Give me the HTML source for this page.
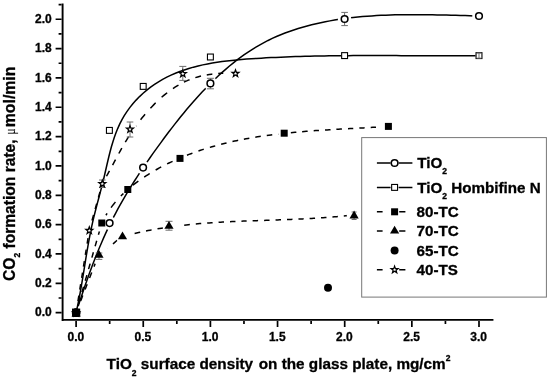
<!DOCTYPE html>
<html><head><meta charset="utf-8"><title>chart</title>
<style>html,body{margin:0;padding:0;background:#fff;overflow:hidden}svg{display:block}</style></head>
<body>
<svg width="550" height="378" viewBox="0 0 550 378">
<rect width="550" height="378" fill="#fff"/>
<defs>
<mask id="m_tio2" maskUnits="userSpaceOnUse" x="0" y="0" width="550" height="378"><rect width="550" height="378" fill="#fff"/>
<circle cx="76.10" cy="312.65" r="6.8" fill="#000"/>
<circle cx="109.60" cy="223.10" r="6.8" fill="#000"/>
<circle cx="143.10" cy="167.60" r="6.8" fill="#000"/>
<circle cx="210.40" cy="83.40" r="6.8" fill="#000"/>
<circle cx="344.60" cy="19.00" r="6.8" fill="#000"/>
<circle cx="479.00" cy="16.00" r="6.8" fill="#000"/>
</mask>
<mask id="m_tc80" maskUnits="userSpaceOnUse" x="0" y="0" width="550" height="378"><rect width="550" height="378" fill="#fff"/>
<circle cx="76.10" cy="312.65" r="6.0" fill="#000"/>
<circle cx="101.80" cy="223.00" r="6.0" fill="#000"/>
<circle cx="127.80" cy="189.50" r="6.0" fill="#000"/>
<circle cx="180.00" cy="158.40" r="6.0" fill="#000"/>
<circle cx="284.20" cy="133.20" r="6.0" fill="#000"/>
<circle cx="388.40" cy="126.40" r="6.0" fill="#000"/>
<circle cx="101.80" cy="223.00" r="9.0" fill="#000"/>
<circle cx="388.40" cy="126.40" r="7.5" fill="#000"/>
</mask>
<mask id="m_tc70" maskUnits="userSpaceOnUse" x="0" y="0" width="550" height="378"><rect width="550" height="378" fill="#fff"/>
<circle cx="76.10" cy="312.65" r="7.5" fill="#000"/>
<circle cx="122.50" cy="235.40" r="7.5" fill="#000"/>
<circle cx="354.10" cy="214.50" r="7.5" fill="#000"/>
<circle cx="99.00" cy="253.80" r="10.5" fill="#000"/>
<circle cx="169.00" cy="224.80" r="4.8" fill="#000"/>
<circle cx="177.00" cy="225.40" r="6.5" fill="#000"/>
</mask>
<mask id="m_ts40" maskUnits="userSpaceOnUse" x="0" y="0" width="550" height="378"><rect width="550" height="378" fill="#fff"/>
<circle cx="76.10" cy="312.65" r="7.0" fill="#000"/>
<circle cx="89.30" cy="230.20" r="7.0" fill="#000"/>
<circle cx="102.30" cy="183.50" r="7.0" fill="#000"/>
<circle cx="130.00" cy="129.00" r="7.0" fill="#000"/>
<circle cx="182.80" cy="73.40" r="7.0" fill="#000"/>
<circle cx="235.50" cy="73.20" r="7.0" fill="#000"/>
<circle cx="235.50" cy="73.20" r="12.0" fill="#000"/>
</mask>
<mask id="m_homb" maskUnits="userSpaceOnUse" x="0" y="0" width="550" height="378"><rect width="550" height="378" fill="#fff"/>
<circle cx="210.40" cy="57.00" r="3.5" fill="#000"/>
<circle cx="344.60" cy="55.60" r="3.5" fill="#000"/>
<circle cx="479.00" cy="55.60" r="3.5" fill="#000"/>
</mask>
</defs>
<g fill="none" stroke="#000" stroke-width="1.50">
<path mask="url(#m_homb)" d="M76.10,312.65 L77.15,307.95 L78.15,303.23 L79.09,298.50 L79.99,293.74 L80.85,288.98 L81.67,284.20 L82.47,279.42 L83.26,274.63 L84.03,269.83 L84.80,265.04 L85.57,260.24 L86.35,255.44 L87.15,250.65 L87.97,245.87 L88.82,241.10 L89.71,236.33 L90.64,231.58 L91.62,226.85 L92.66,222.14 L93.77,217.44 L94.92,212.76 L96.12,208.09 L97.34,203.42 L98.58,198.75 L99.81,194.08 L101.04,189.40 L102.24,184.71 L103.41,179.99 L104.53,175.25 L105.62,170.49 L106.71,165.73 L107.81,160.98 L108.95,156.23 L110.14,151.51 L111.41,146.82 L112.78,142.17 L114.27,137.57 L115.90,133.04 L117.69,128.57 L119.67,124.18 L121.85,119.88 L124.26,115.68 L126.90,111.59 L129.77,107.62 L132.85,103.79 L136.11,100.11 L139.53,96.58 L143.11,93.23 L146.81,90.07 L150.62,87.11 L154.53,84.34 L158.53,81.77 L162.63,79.38 L166.81,77.17 L171.07,75.12 L175.41,73.24 L179.82,71.50 L184.30,69.92 L188.84,68.47 L193.44,67.15 L198.09,65.95 L202.79,64.87 L207.53,63.90 L212.31,63.03 L217.13,62.25 L221.98,61.55 L226.85,60.93 L231.74,60.39 L236.64,59.90 L241.56,59.47 L246.48,59.08 L251.41,58.74 L256.33,58.42 L261.24,58.13 L266.15,57.86 L271.04,57.61 L275.92,57.38 L280.80,57.16 L285.66,56.97 L290.52,56.78 L295.37,56.62 L300.22,56.47 L305.05,56.33 L309.88,56.21 L314.71,56.10 L319.53,56.00 L324.35,55.92 L329.16,55.84 L333.97,55.78 L338.77,55.73 L343.58,55.68 L348.38,55.65 L353.18,55.62 L357.97,55.60 L362.77,55.58 L367.57,55.58 L372.37,55.57 L377.17,55.58 L381.97,55.58 L386.77,55.59 L391.57,55.61 L396.38,55.62 L401.19,55.64 L406.00,55.66 L410.82,55.68 L415.64,55.69 L420.47,55.71 L425.31,55.73 L430.15,55.74 L434.99,55.75 L439.85,55.76 L444.71,55.76 L449.58,55.75 L454.46,55.75 L459.35,55.73 L464.24,55.71 L469.15,55.68 L474.07,55.65 L479.00,55.60"/>
<path mask="url(#m_tio2)" d="M76.10,312.65 L77.53,308.21 L78.97,303.78 L80.43,299.34 L81.91,294.91 L83.40,290.48 L84.92,286.05 L86.46,281.63 L88.02,277.23 L89.61,272.83 L91.23,268.44 L92.88,264.06 L94.56,259.70 L96.27,255.36 L98.02,251.03 L99.81,246.72 L101.64,242.43 L103.51,238.16 L105.42,233.91 L107.38,229.69 L109.39,225.49 L111.44,221.32 L113.55,217.18 L115.70,213.06 L117.89,208.97 L120.14,204.91 L122.42,200.86 L124.75,196.84 L127.11,192.85 L129.52,188.87 L131.96,184.92 L134.44,180.98 L136.96,177.07 L139.50,173.17 L142.08,169.29 L144.69,165.43 L147.32,161.59 L149.99,157.76 L152.68,153.94 L155.39,150.14 L158.12,146.35 L160.88,142.57 L163.66,138.81 L166.46,135.06 L169.28,131.32 L172.12,127.60 L175.00,123.90 L177.90,120.23 L180.83,116.57 L183.79,112.95 L186.79,109.35 L189.82,105.78 L192.89,102.24 L196.00,98.73 L199.14,95.26 L202.33,91.83 L205.56,88.44 L208.83,85.09 L212.16,81.78 L215.53,78.52 L218.94,75.31 L222.41,72.16 L225.93,69.07 L229.49,66.04 L233.11,63.09 L236.78,60.21 L240.50,57.41 L244.28,54.70 L248.11,52.07 L251.99,49.54 L255.93,47.11 L259.93,44.78 L263.98,42.56 L268.09,40.45 L272.25,38.44 L276.46,36.54 L280.72,34.75 L285.02,33.05 L289.37,31.44 L293.75,29.93 L298.17,28.51 L302.63,27.18 L307.12,25.94 L311.64,24.77 L316.18,23.69 L320.74,22.68 L325.33,21.75 L329.94,20.88 L334.56,20.09 L339.19,19.36 L343.83,18.70 L348.48,18.10 L353.14,17.55 L357.79,17.06 L362.45,16.62 L367.11,16.24 L371.78,15.90 L376.44,15.61 L381.11,15.36 L385.77,15.15 L390.44,14.98 L395.11,14.85 L399.78,14.75 L404.45,14.68 L409.12,14.65 L413.79,14.64 L418.46,14.65 L423.12,14.69 L427.79,14.74 L432.46,14.82 L437.12,14.90 L441.78,15.01 L446.45,15.12 L451.10,15.24 L455.76,15.36 L460.42,15.49 L465.07,15.62 L469.71,15.75 L474.36,15.88 L479.00,16.00"/>
<path mask="url(#m_tc80)" d="M76.10,312.65L76.65,310.73L76.93,309.77M78.65,303.76L79.20,301.83L79.75,299.91L80.23,298.23M81.96,292.22L82.51,290.30L83.06,288.37L83.54,286.69M85.26,280.68L85.82,278.76L86.37,276.84L86.85,275.16M88.57,269.15L89.12,267.22L89.67,265.30L90.16,263.62M91.88,257.61L92.43,255.69L92.98,253.76L93.39,252.32M95.12,246.31L95.67,244.39L96.22,242.47L96.70,240.79M98.42,234.78L98.98,232.85L99.53,230.93L100.01,229.25M101.73,223.24L101.80,223.00"/>
<path mask="url(#m_tc80)" d="M103.86,218.94L104.89,217.08L105.96,215.25L107.07,213.45L107.07,213.45M111.06,207.58L112.32,205.91L113.61,204.27L114.93,202.65L115.44,202.05M120.88,196.07L122.35,194.59L123.85,193.14L125.38,191.71L126.34,190.83M132.93,185.25L134.58,183.95L136.25,182.68L137.94,181.43L138.37,181.12M144.21,177.07L145.97,175.91L147.75,174.77L149.54,173.66L149.76,173.52M155.66,170.02L157.50,168.98L159.35,167.96L161.21,166.96L161.21,166.96M167.09,163.94L168.99,163.01L170.90,162.10L172.58,161.31M178.63,158.61L179.36,158.29M180.34,157.88L181.07,157.57M186.98,155.19L188.96,154.42L190.95,153.68L192.44,153.12M198.46,151.00L200.47,150.33L202.50,149.66L203.76,149.26M209.86,147.38L211.90,146.79L213.95,146.20L215.23,145.85M221.13,144.27L223.19,143.74L225.25,143.23L226.54,142.92M232.48,141.55L234.55,141.09L236.62,140.65L238.17,140.33M243.87,139.19L245.95,138.80L248.03,138.42L249.32,138.19M255.30,137.17L257.39,136.84L259.47,136.52L260.77,136.32M266.77,135.45L268.86,135.17L270.95,134.89L272.25,134.72M278.27,133.99L280.36,133.75L282.45,133.52L283.76,133.37M284.02,133.35L284.81,133.26M290.84,132.65L292.94,132.45L295.04,132.26L296.35,132.14M302.13,131.65L304.23,131.48L306.33,131.31L307.65,131.21M313.70,130.77L315.80,130.62L317.91,130.48L318.96,130.41M325.02,130.02L327.13,129.89L329.24,129.77L330.56,129.69M336.36,129.36L338.47,129.24L340.59,129.12L341.91,129.05M347.98,128.72L350.09,128.61L352.20,128.50L353.26,128.44M359.34,128.12L361.45,128.01L363.56,127.89L364.62,127.83M370.70,127.49L372.81,127.37L374.92,127.25L375.98,127.19M382.06,126.81L384.17,126.68L386.29,126.54L387.61,126.45"/>
<path mask="url(#m_tc70)" d="M76.10,312.65L76.83,310.78L77.55,308.91L78.28,307.05L78.28,307.05M80.64,300.97L81.37,299.11L82.10,297.24L82.73,295.60M85.10,289.53L85.82,287.66L86.55,285.79L87.19,284.16M89.55,278.09L90.28,276.22L91.00,274.35L91.73,272.48L91.73,272.48M94.00,266.64L94.73,264.78L95.46,262.91L96.18,261.04L96.18,261.04M98.55,254.97L99.00,253.80M101.68,251.93L103.32,250.77L104.97,249.62L106.62,248.47L107.03,248.18M113.00,244.00L114.49,242.65L115.98,241.30L117.47,239.95L118.59,238.94"/>
<path mask="url(#m_tc70)" d="M123.26,236.39L125.27,235.84L127.29,235.31L128.80,234.91M134.62,233.48L136.64,233.00L138.67,232.54L140.19,232.20M146.03,230.97L148.07,230.57L150.11,230.17L151.64,229.88M157.50,228.84L159.55,228.49L161.59,228.16L162.87,227.96M169.02,227.04L169.02,227.04M172.87,226.51L174.93,226.24L176.98,225.98L178.27,225.82M184.19,225.13L186.25,224.91L188.31,224.70L189.86,224.54M195.80,223.98L197.86,223.79L199.93,223.62L201.22,223.51M207.18,223.05L209.25,222.91L211.32,222.76L212.62,222.68M218.58,222.31L220.66,222.19L222.73,222.07L224.03,222.00M230.00,221.70L232.08,221.60L234.16,221.51L235.46,221.45M241.44,221.20L243.53,221.11L245.61,221.03L246.65,220.99M252.63,220.78L254.72,220.70L256.80,220.63L258.10,220.59M264.09,220.39L266.17,220.32L268.26,220.25L269.56,220.20M275.55,220.00L277.63,219.93L279.71,219.86L281.02,219.81M287.00,219.59L289.08,219.51L291.16,219.42L292.47,219.37M298.45,219.11L300.53,219.02L302.61,218.92L303.65,218.87M309.62,218.56L311.70,218.44L313.77,218.32L315.07,218.24M321.04,217.86L323.11,217.72L325.18,217.57L326.48,217.48M332.43,217.01L334.50,216.83L336.56,216.65L337.86,216.53M343.79,215.95L345.86,215.74L347.92,215.52L349.47,215.34"/>
<path mask="url(#m_ts40)" d="M76.10,312.65L76.42,310.67L76.73,308.69L77.01,306.96M77.96,301.01L78.28,299.03L78.60,297.05L78.84,295.57M79.79,289.62L80.10,287.64L80.42,285.66L80.66,284.18M81.65,277.99L81.97,276.01L82.28,274.02L82.52,272.54M83.47,266.60L83.79,264.62L84.11,262.64L84.35,261.15M85.34,254.96L85.65,252.98L85.97,251.00L86.21,249.51M87.16,243.57L87.48,241.59L87.79,239.61L88.03,238.12M89.02,231.93L89.37,229.96L89.91,228.02L90.31,226.57M91.99,220.52L92.53,218.59L93.07,216.65L93.54,214.96M95.16,209.15L95.70,207.21L96.24,205.28L96.71,203.58M98.39,197.53L98.93,195.60L99.47,193.66L99.94,191.97M101.63,185.92L102.17,183.98L102.30,183.50"/>
<path mask="url(#m_ts40)" d="M102.30,183.50L103.09,182.17M106.48,176.25L107.69,174.07L108.89,171.89L109.49,170.80M112.60,165.04L113.78,162.84L114.96,160.64L115.55,159.54M118.82,153.51L120.02,151.33L121.24,149.16L121.85,148.08M125.28,142.18L126.57,140.06L127.87,137.95L128.69,136.65M132.42,130.97L133.81,128.94L135.23,126.93L136.13,125.68M140.58,119.77L142.12,117.83L143.68,115.92L145.07,114.26M150.43,108.22L152.14,106.40L153.88,104.61L155.65,102.84L155.65,102.84M161.62,97.30L163.52,95.67L165.45,94.08L167.17,92.73M172.96,88.53L175.04,87.16L177.14,85.86L178.47,85.07M183.91,82.17L186.14,81.12L188.40,80.14L189.54,79.68M195.34,77.64L197.71,76.95L200.10,76.32L201.00,76.10M206.77,74.91L209.23,74.51L211.70,74.16L212.32,74.08M218.22,73.49L220.72,73.33L223.22,73.20L223.53,73.19M229.78,73.08L232.27,73.10L234.76,73.16L235.07,73.17"/>
</g>
<path d="M210.40,78.30V88.80 M206.90,78.30h7.00 M206.90,88.80h7.00" stroke="#6e6e6e" stroke-width="1" fill="none"/>
<path d="M344.60,12.40V25.60 M341.30,12.40h6.60 M341.30,25.60h6.60" stroke="#6e6e6e" stroke-width="1" fill="none"/>
<path d="M102.30,180.00V187.50 M99.00,180.00h6.60 M99.00,187.50h6.60" stroke="#6e6e6e" stroke-width="1" fill="none"/>
<path d="M130.00,122.00V137.00 M126.70,122.00h6.60 M126.70,137.00h6.60" stroke="#6e6e6e" stroke-width="1" fill="none"/>
<path d="M182.80,66.40V80.40 M179.30,66.40h7.00 M179.30,80.40h7.00" stroke="#6e6e6e" stroke-width="1" fill="none"/>
<path d="M99.00,253.00V259.40 M95.70,253.00h6.60 M95.70,259.40h6.60" stroke="#6e6e6e" stroke-width="1" fill="none"/>
<path d="M169.00,221.30V230.20 M165.50,221.30h7.00 M165.50,230.20h7.00" stroke="#6e6e6e" stroke-width="1" fill="none"/>
<path d="M354.10,212.00V219.50 M351.60,212.00h5.00 M351.60,219.50h5.00" stroke="#6e6e6e" stroke-width="1" fill="none"/>
<rect x="72.60" y="309.15" width="7.00" height="7.00" fill="#000"/>
<rect x="98.30" y="219.50" width="7.00" height="7.00" fill="#000"/>
<rect x="124.30" y="186.00" width="7.00" height="7.00" fill="#000"/>
<rect x="176.50" y="154.90" width="7.00" height="7.00" fill="#000"/>
<rect x="280.70" y="129.70" width="7.00" height="7.00" fill="#000"/>
<rect x="384.90" y="122.90" width="7.00" height="7.00" fill="#000"/>
<path d="M76.10,308.75L80.70,316.55L71.50,316.55Z" fill="#000"/>
<path d="M99.00,249.90L103.60,257.70L94.40,257.70Z" fill="#000"/>
<path d="M122.50,231.50L127.10,239.30L117.90,239.30Z" fill="#000"/>
<path d="M169.00,220.90L173.60,228.70L164.40,228.70Z" fill="#000"/>
<path d="M354.10,210.60L358.70,218.40L349.50,218.40Z" fill="#000"/>
<polygon points="76.10,309.25 76.98,311.74 79.62,311.81 77.53,313.41 78.27,315.94 76.10,314.45 73.93,315.94 74.67,313.41 72.58,311.81 75.22,311.74" fill="#fff" stroke="#000" stroke-width="1.2" stroke-linejoin="miter"/>
<polygon points="89.30,226.80 90.18,229.29 92.82,229.36 90.73,230.96 91.47,233.49 89.30,232.00 87.13,233.49 87.87,230.96 85.78,229.36 88.42,229.29" fill="#fff" stroke="#000" stroke-width="1.2" stroke-linejoin="miter"/>
<polygon points="102.30,180.10 103.18,182.59 105.82,182.66 103.73,184.26 104.47,186.79 102.30,185.30 100.13,186.79 100.87,184.26 98.78,182.66 101.42,182.59" fill="#fff" stroke="#000" stroke-width="1.2" stroke-linejoin="miter"/>
<polygon points="130.00,125.60 130.88,128.09 133.52,128.16 131.43,129.76 132.17,132.29 130.00,130.80 127.83,132.29 128.57,129.76 126.48,128.16 129.12,128.09" fill="#fff" stroke="#000" stroke-width="1.2" stroke-linejoin="miter"/>
<polygon points="182.80,70.00 183.68,72.49 186.32,72.56 184.23,74.16 184.97,76.69 182.80,75.20 180.63,76.69 181.37,74.16 179.28,72.56 181.92,72.49" fill="#fff" stroke="#000" stroke-width="1.2" stroke-linejoin="miter"/>
<polygon points="235.50,69.80 236.38,72.29 239.02,72.36 236.93,73.96 237.67,76.49 235.50,75.00 233.33,76.49 234.07,73.96 231.98,72.36 234.62,72.29" fill="#fff" stroke="#000" stroke-width="1.2" stroke-linejoin="miter"/>
<rect x="73.15" y="309.70" width="5.90" height="5.90" fill="#fff" stroke="#000" stroke-width="1.1"/>
<rect x="106.45" y="127.45" width="5.90" height="5.90" fill="#fff" stroke="#000" stroke-width="1.1"/>
<rect x="140.25" y="83.45" width="5.90" height="5.90" fill="#fff" stroke="#000" stroke-width="1.1"/>
<rect x="207.45" y="54.05" width="5.90" height="5.90" fill="#fff" stroke="#000" stroke-width="1.1"/>
<rect x="341.65" y="52.65" width="5.90" height="5.90" fill="#fff" stroke="#000" stroke-width="1.1"/>
<rect x="476.05" y="52.65" width="5.90" height="5.90" fill="#fff" stroke="#000" stroke-width="1.1"/>
<circle cx="76.10" cy="312.65" r="3.33" fill="#fff" stroke="#000" stroke-width="1.55"/>
<circle cx="109.60" cy="223.10" r="3.33" fill="#fff" stroke="#000" stroke-width="1.55"/>
<circle cx="143.10" cy="167.60" r="3.33" fill="#fff" stroke="#000" stroke-width="1.55"/>
<circle cx="210.40" cy="83.40" r="3.33" fill="#fff" stroke="#000" stroke-width="1.55"/>
<circle cx="344.60" cy="19.00" r="3.33" fill="#fff" stroke="#000" stroke-width="1.55"/>
<circle cx="479.00" cy="16.00" r="3.33" fill="#fff" stroke="#000" stroke-width="1.55"/>
<circle cx="328.00" cy="287.65" r="4.00" fill="#000"/>
<path d="M479.00,53.00V58.20 M476.50,53.00h5.00 M476.50,58.20h5.00" stroke="#6e6e6e" stroke-width="1" fill="none"/>
<circle cx="76.10" cy="312.65" r="4.30" fill="#000"/>
<rect x="72.00" y="308.55" width="8.20" height="8.20" fill="#000"/>
<g stroke="#000" stroke-width="1.9" fill="none">
<path d="M62.60,3.58V320.90 M61.60,319.90H493.43"/>
<path d="M61.60,312.65h-6.00M61.60,297.98h-3.00M61.60,283.31h-6.00M61.60,268.64h-3.00M61.60,253.97h-6.00M61.60,239.30h-3.00M61.60,224.63h-6.00M61.60,209.96h-3.00M61.60,195.29h-6.00M61.60,180.62h-3.00M61.60,165.95h-6.00M61.60,151.28h-3.00M61.60,136.61h-6.00M61.60,121.94h-3.00M61.60,107.27h-6.00M61.60,92.60h-3.00M61.60,77.93h-6.00M61.60,63.26h-3.00M61.60,48.59h-6.00M61.60,33.92h-3.00M61.60,19.25h-6.00M61.60,4.58h-3.00M76.10,320.90v6.00M109.67,320.90v3.00M143.25,320.90v6.00M176.82,320.90v3.00M210.40,320.90v6.00M243.97,320.90v3.00M277.55,320.90v6.00M311.12,320.90v3.00M344.70,320.90v6.00M378.27,320.90v3.00M411.85,320.90v6.00M445.43,320.90v3.00M479.00,320.90v6.00" stroke-width="1.7"/>
</g>
<g font-family="'Liberation Sans', sans-serif" font-weight="bold" stroke="#000" stroke-width="0.3" font-size="12px" fill="#000">
<text x="51.8" y="316.35" text-anchor="end">0.0</text>
<text x="51.8" y="287.01" text-anchor="end">0.2</text>
<text x="51.8" y="257.67" text-anchor="end">0.4</text>
<text x="51.8" y="228.33" text-anchor="end">0.6</text>
<text x="51.8" y="198.99" text-anchor="end">0.8</text>
<text x="51.8" y="169.65" text-anchor="end">1.0</text>
<text x="51.8" y="140.31" text-anchor="end">1.2</text>
<text x="51.8" y="110.97" text-anchor="end">1.4</text>
<text x="51.8" y="81.63" text-anchor="end">1.6</text>
<text x="51.8" y="52.29" text-anchor="end">1.8</text>
<text x="51.8" y="22.95" text-anchor="end">2.0</text>
<text x="75.80" y="340.8" text-anchor="middle">0.0</text>
<text x="142.95" y="340.8" text-anchor="middle">0.5</text>
<text x="210.10" y="340.8" text-anchor="middle">1.0</text>
<text x="277.25" y="340.8" text-anchor="middle">1.5</text>
<text x="344.40" y="340.8" text-anchor="middle">2.0</text>
<text x="411.55" y="340.8" text-anchor="middle">2.5</text>
<text x="478.70" y="340.8" text-anchor="middle">3.0</text>
</g>
<text font-family="'Liberation Sans', sans-serif" font-weight="bold" stroke="#000" stroke-width="0.3" font-size="15.3px" x="106.6" y="368.8">TiO<tspan font-size="8.5px" dy="6.8">2</tspan><tspan dy="-6.8"> surface density</tspan><tspan dx="1.4"> on the glass plate, mg/cm</tspan><tspan font-size="8.5px" dy="-8.3">2</tspan></text>
<text font-family="'Liberation Sans', sans-serif" font-weight="bold" stroke="#000" stroke-width="0.3" font-size="15.6px" transform="translate(14.8,281) rotate(-90)">CO<tspan font-size="8.5px" dy="5.2">2</tspan><tspan dy="-5.2"> formation rate,</tspan></text>
<text font-family="Liberation Serif, DejaVu Serif, serif" font-size="15.5px" stroke="#000" stroke-width="0.15" transform="translate(14.8,134.5) rotate(-90) scale(0.72,1)">μ</text>
<text font-family="'Liberation Sans', sans-serif" font-weight="bold" stroke="#000" stroke-width="0.3" font-size="15.8px" transform="translate(14.8,127.2) rotate(-90)">mol/min</text>
<rect x="361.7" y="137.6" width="184.7" height="159.5" fill="#fff" stroke="#777" stroke-width="1"/>
<g fill="none" stroke="#000" stroke-width="1.50">
<path d="M376.90,163.00H390.60 M398.60,163.00H412.40"/>
<path d="M376.90,187.40H390.60 M398.60,187.40H412.40"/>
<path d="M376.90,211.80h5.7 M399.20,211.80H405.40"/>
<path d="M376.90,231.00h5.7 M399.20,231.00H405.40"/>
<path d="M376.90,269.80h5.7 M399.20,269.80H405.40"/>
</g>
<circle cx="394.60" cy="163.00" r="3.33" fill="#fff" stroke="#000" stroke-width="1.55"/>
<rect x="391.65" y="184.45" width="5.90" height="5.90" fill="#fff" stroke="#000" stroke-width="1.1"/>
<rect x="391.10" y="208.30" width="7.00" height="7.00" fill="#000"/>
<path d="M394.60,225.80L399.20,233.60L390.00,233.60Z" fill="#000"/>
<circle cx="394.60" cy="250.50" r="4.00" fill="#000"/>
<polygon points="394.60,266.10 395.48,268.59 398.12,268.66 396.03,270.26 396.77,272.79 394.60,271.30 392.43,272.79 393.17,270.26 391.08,268.66 393.72,268.59" fill="#fff" stroke="#000" stroke-width="1.2" stroke-linejoin="miter"/>
<g font-family="'Liberation Sans', sans-serif" font-weight="bold" stroke="#000" stroke-width="0.3" font-size="15.2px" fill="#000">
<text x="417.2" y="168.3">TiO<tspan font-size="8.5px" dy="5.9">2</tspan></text>
<text x="417.2" y="192.7">TiO<tspan font-size="8.5px" dy="5.9">2</tspan><tspan dy="-5.9"> Hombifine N</tspan></text>
<text x="416.6" y="216.90">80-TC</text>
<text x="416.6" y="236.20">70-TC</text>
<text x="416.6" y="255.50">65-TC</text>
<text x="416.6" y="274.80">40-TS</text>
</g>
</svg>
</body></html>
